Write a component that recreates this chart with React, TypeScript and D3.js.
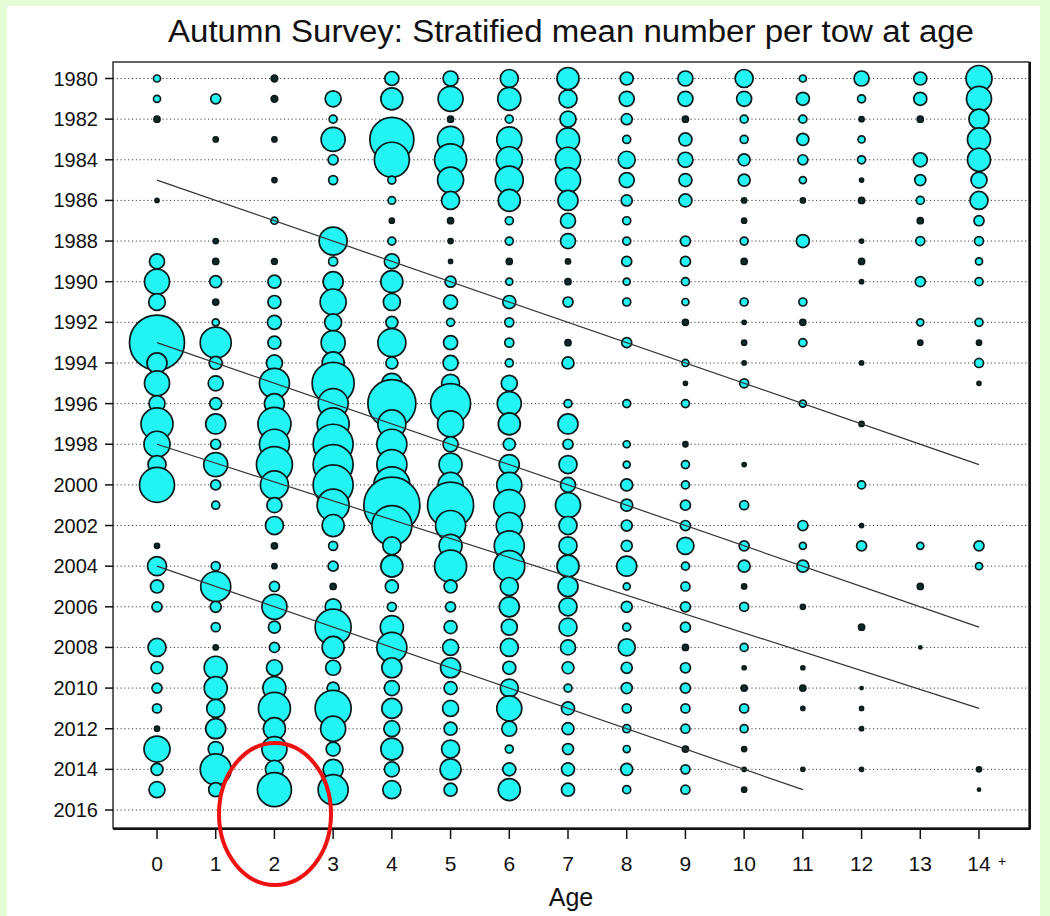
import React from "react";
import * as d3 from "d3";

// Years (rows) and ages (columns)
const years: number[] = d3.range(1980, 2016);
const ages: number[] = d3.range(0, 15);
const yearTicks: number[] = d3.range(1980, 2017, 2);
const ageTickLabels: string[] = ["0","1","2","3","4","5","6","7","8","9","10","11","12","13","14"];

// Stratified mean number per tow at age, 1980..2015
const age0 = [3.1,3.1,2.3,0,0,0,1,0,0,14.1,39.1,17.2,0,189.1,25,39.1,16,64,42.3,20.3,76.6,0,0,1.6,22.6,10.6,6.3,0,20.3,9,6.3,5.1,1.6,42.3,9,16];
const age1 = [0,6.3,0,1.6,0,0,0,0,1.6,2.3,9,2.3,3.1,60.1,10.6,14.1,9,25,6.3,36,6.3,4,0,0,5.1,56.3,7.6,5.1,1.6,33.1,33.1,20.3,25,14.1,60.1,12.3];
const age2 = [2.7,2.7,0,1.6,0,1.6,0,3.1,0,2,10.6,10.6,12.3,10.6,16,56.3,25,68.1,56.3,81,49,14.1,20.3,2.3,1.6,6.3,39.1,9,6.3,16,33.1,64,30.3,39.1,20.3,72.3];
const age3 = [0,16,4,36,6.3,5.1,0,0,49,5.1,25,42.3,18.1,36,30.3,110.3,56.3,64,100,100,100,64,30.3,5.1,6.3,2.3,16,81,30.3,14.1,9,81,39.1,12.3,25,56.3];
const age4 = [12.3,30.3,0,121,76.6,4,3.6,1.6,4,14.1,30.3,18.1,9,49,9,25,144,49,56.3,56.3,81,196,100,20.3,30.3,10.6,5.1,33.1,56.3,25,14.1,25,16,30.3,14.1,20.3];
const age5 = [14.1,39.1,2.3,42.3,64,42.3,20.3,2.3,1.6,1,7.6,12.3,4,12.3,14.1,20.3,100,42.3,14.1,33.1,39.1,132.3,56.3,33.1,64,10.6,6.3,10.6,16,25,10.6,16,10.6,20.3,27.6,10.6];
const age6 = [20.3,33.1,4,39.1,42.3,49,30.3,4,4,2.3,3.1,10.6,5.1,5.1,4,16,36,30.3,9,25,39.1,60.1,42.3,56.3,60.1,20.3,25,16,20.3,10.6,20.3,39.1,14.1,4,10.6,30.3];
const age7 = [30.3,20.3,16,33.1,39.1,39.1,25,14.1,14.1,1.6,2.3,6.3,0,2.3,9,0,4,25,6.3,20.3,14.1,39.1,20.3,20.3,30.3,25,20.3,20.3,14.1,9,4,10.6,9,7.6,10.6,10.6];
const age8 = [10.6,14.1,7.6,4,18.1,14.1,7.6,4,4,6.3,3.1,4,0,6.3,0,0,4,0,3.1,3.1,9,9,7.6,7.6,25,3.1,7.6,4,18.1,7.6,7.6,5.1,4,3.1,9,4];
const age9 = [14.1,14.1,2.3,10.6,14.1,10.6,10.6,0,6.3,6.3,4,3.1,2.3,0,3.1,1,4,0,1.6,4,4,6.3,6.3,18.1,4,5.1,6.3,6.3,2.3,6.3,6.3,5.1,5.1,2.3,5.1,5.1];
const age10 = [20.3,14.1,4,4,9,9,1.6,1.6,4,2.3,0,4,1,1.6,1,5.1,0,0,0,1,0,5.1,0,6.3,9,1.6,5.1,0,4,1,2.3,5.1,4,1.6,1,1.6];
const age11 = [3.1,10.6,4,9,6.3,3.1,1.6,0,10.6,0,0,4,2.3,4,0,0,3.1,0,0,0,0,0,6.3,3.1,9,0,1.6,0,0,1,2.3,1,0,0,1,0];
const age12 = [14.1,4,1.6,3.1,4,1,2.3,0,1,2.3,1,0,0,0,1,0,0,1.6,0,0,4,0,1,6.3,0,0,0,2.3,0,0,0.6,1,1,0,1,0];
const age13 = [10.6,10.6,2.3,0,12.3,7.6,4,2.3,5.1,0,6.3,0,3.1,1.6,0,0,0,0,0,0,0,0,0,3.1,0,2.3,0,0,0.6,0,0,0,0,0,0,0];
const age14 = [42.3,39.1,25,33.1,33.1,16,20.3,6.3,5.1,3.1,4,0,4,1.6,5.1,1,0,0,0,0,0,0,0,6.3,3.1,0,0,0,0,0,0,0,0,0,1.6,0.6];
const ageSeries: number[][] = [age0,age1,age2,age3,age4,age5,age6,age7,age8,age9,age10,age11,age12,age13,age14];

// Cohort lines: start (age, year) -> end (age, year)
const lineStartAge = [0, 0, 0, 0];
const lineStartYear = [1985, 1993, 1998, 2004];
const lineEndAge = [14, 14, 14, 11];
const lineEndYear = [1999, 2007, 2011, 2015];

const W = 1050, H = 916;
const PL = 113, PR = 1029, PT = 62, PB = 828;

export default function App() {
  const x = d3.scaleLinear().domain([0, 14]).range([157, 979]);
  const y = d3.scaleLinear().domain([1980, 2016]).range([78.5, 810]);
  const r = d3.scaleSqrt().domain([0, 100]).range([0, 20]);

  const cells: { a: number; yr: number; v: number }[] = [];
  years.forEach((yr, yi) => {
    ages.forEach((a) => {
      const v = ageSeries[a][yi];
      if (v > 0) cells.push({ a, yr, v });
    });
  });

  const font = "'Liberation Sans', Arial, sans-serif";

  return (
    <svg width={W} height={H} style={{ position: "absolute", left: 0, top: 0 }}>
      <rect x={0} y={0} width={W} height={H} fill="#e4fdd6" />
      <rect x={7} y={6} width={1033} height={H - 6} fill="#ffffff" />
      <text x={571} y={42} textAnchor="middle" fontFamily={font} fontSize={31} fill="#111"
        textLength={806} lengthAdjust="spacingAndGlyphs">
        Autumn Survey: Stratified mean number per tow at age
      </text>
      {/* grid */}
      {yearTicks.map((t) => (
        <line key={"g" + t} x1={PL} x2={PR} y1={y(t)} y2={y(t)} stroke="#444" strokeWidth={1} strokeDasharray="1.2,2.6" />
      ))}
      {/* bubbles */}
      {cells.map((c, i) => {
        const rr = r(c.v);
        return (
          <circle key={i} cx={x(c.a)} cy={y(c.yr)} r={rr}
            fill={rr < 3.3 ? "#0f2a2a" : "#22f4f4"} stroke="#0c1a1a" strokeWidth={1.7} />
        );
      })}
      {/* cohort lines */}
      {lineStartYear.map((s, i) => (
        <line key={"l" + i} x1={x(lineStartAge[i])} y1={y(s)} x2={x(lineEndAge[i])} y2={y(lineEndYear[i])} stroke="#333" strokeWidth={1.2} />
      ))}
      {/* frame */}
      <rect x={PL} y={PT} width={PR - PL} height={PB - PT} fill="none" stroke="#111" strokeWidth={1.3} />
      <line x1={PL} x2={PR + 1.5} y1={PB + 1} y2={PB + 1} stroke="#111" strokeWidth={2} />
      <line x1={PR + 1} x2={PR + 1} y1={PT} y2={PB + 1} stroke="#111" strokeWidth={2} />
      {/* y axis */}
      {yearTicks.map((t) => (
        <g key={"y" + t}>
          <line x1={PL - 8} x2={PL} y1={y(t)} y2={y(t)} stroke="#111" strokeWidth={1.5} />
          <text x={98} y={y(t) + 7} textAnchor="end" fontFamily={font} fontSize={20} fill="#111">{t}</text>
        </g>
      ))}
      {/* x axis */}
      {ages.map((a) => (
        <g key={"x" + a}>
          <line x1={x(a)} x2={x(a)} y1={PB} y2={PB + 11} stroke="#111" strokeWidth={1.5} />
          <text x={x(a)} y={871} textAnchor="middle" fontFamily={font} fontSize={21} fill="#111">{ageTickLabels[a]}</text>
        </g>
      ))}
      <text x={x(14) + 19} y={866} fontFamily={font} fontSize={14} fill="#111">+</text>
      <text x={571} y={906} textAnchor="middle" fontFamily={font} fontSize={25} fill="#111">Age</text>
      {/* annotation */}
      <ellipse cx={275} cy={814} rx={56} ry={71} fill="none" stroke="#ee1111" strokeWidth={4} />
    </svg>
  );
}
